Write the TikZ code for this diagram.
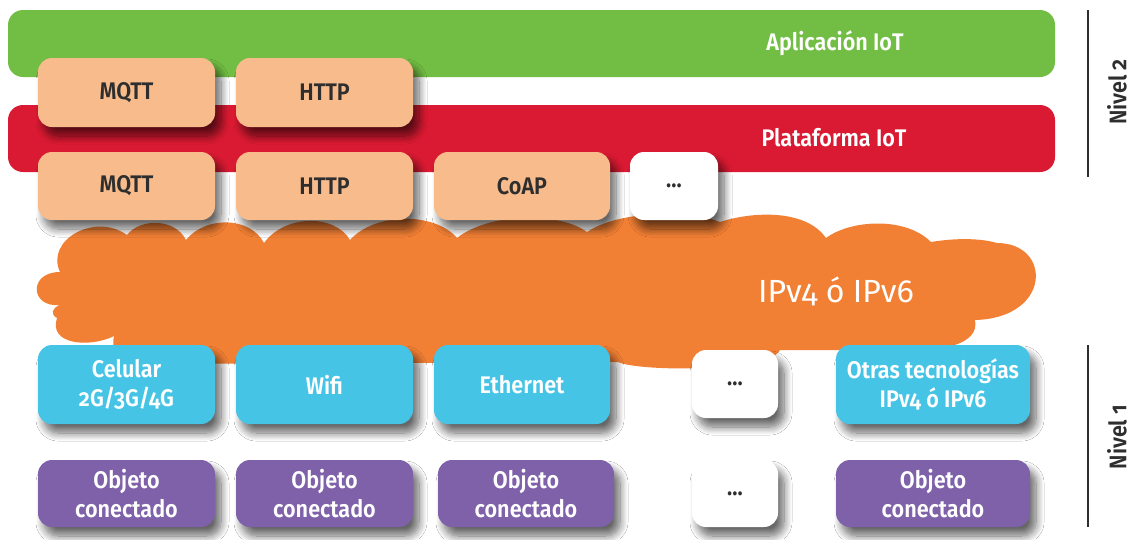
\documentclass[tikz,border=0pt]{standalone}
\usepackage{fontspec}
\setmainfont{Fira Sans}[Numbers=OldStyle]
\newfontfamily\lab{Fira Sans}[Numbers=OldStyle, FakeStretch=0.9, BoldFont={* SemiBold}]
\usetikzlibrary{shadows.blur}
\definecolor{greenc}{HTML}{72BE44}
\definecolor{redc}{HTML}{DA1A32}
\definecolor{peachc}{HTML}{F8BC8C}
\definecolor{orangec}{HTML}{F28034}
\definecolor{bluec}{HTML}{46C4E6}
\definecolor{purplec}{HTML}{7E61A8}
\definecolor{txtc}{HTML}{2E2E2E}
\tikzset{
  boxbase/.style={rounded corners=14pt, inner sep=0pt, align=center,
    font=\lab\bfseries\fontsize{24}{29}\selectfont,
    blur shadow={shadow xshift=6pt, shadow yshift=-9pt, shadow blur steps=10, shadow blur radius=8pt, shadow opacity=60}},
  peachbox/.style={boxbase, fill=peachc, text=txtc, minimum width=177pt, minimum height=69pt},
  dotbox/.style={boxbase, fill=white, text=txtc},
  bluebox/.style={boxbase, fill=bluec, text=white, minimum width=177pt, minimum height=79pt},
  purplebox/.style={boxbase, fill=purplec, text=white, minimum width=177pt, minimum height=67pt},
  bar/.style={rounded corners=15pt, minimum width=1047pt, minimum height=67pt, inner sep=0pt},
  bartext/.style={text=white, font=\lab\bfseries\fontsize{24}{28}\selectfont},
  niveltext/.style={text=txtc, rotate=90, font=\lab\bfseries\fontsize{24}{28}\selectfont},
  bracket/.style={line width=2pt, txtc}
}
\begin{document}
\begin{tikzpicture}[x=1pt,y=-1pt]
\useasboundingbox (0,0) rectangle (1131,539);
\fill[white] (0,0) rectangle (1131,539);
% bars
\node[bar, fill=greenc] (app) at (531.5,43.5) {};
\node[bartext] (appt) at (835,43) {Aplicación IoT};
\node[bar, fill=redc] (plat) at (531.5,138.5) {};
\node[bartext] (platt) at (834,138) {Plataforma IoT};
% cloud
\fill[orangec] (60,305)
 .. controls (30,308) and (28,272) .. (60,272)
 .. controls (45,240) and (95,212) .. (127,235)
 .. controls (140,218) and (175,218) .. (186,240)
 .. controls (205,216) and (250,216) .. (264,243)
 .. controls (285,214) and (335,214) .. (350,240)
 .. controls (375,212) and (435,212) .. (457,238)
 .. controls (490,212) and (560,212) .. (587,232)
 .. controls (620,210) and (690,210) .. (720,222)
 .. controls (750,212) and (805,208) .. (826,238)
 .. controls (850,220) and (905,216) .. (931,242)
 .. controls (955,238) and (980,238) .. (997,243)
 .. controls (1052,243) and (1052,318) .. (975,320)
 .. controls (980,345) and (940,352) .. (900,350)
 -- (780,350)
 .. controls (770,372) and (640,372) .. (618,362)
 -- (130,364)
 .. controls (113,362) and (112,345) .. (114,336)
 .. controls (90,348) and (48,345) .. (57,318)
 .. controls (50,314) and (52,308) .. (60,305) -- cycle;
\node[text=white, font=\fontsize{32}{36}\selectfont] (ip) at (836,291) {IPv4 ó IPv6};
% upper protocol row
\node[peachbox] (mqtt1) at (126.5,92.5) {MQTT};
\node[peachbox] (http1) at (324.5,92.5) {HTTP};
% second protocol row
\node[peachbox, minimum height=68pt] (mqtt2) at (126.5,186) {MQTT};
\node[peachbox, minimum height=68pt] (http2) at (324.5,186) {HTTP};
\node[peachbox, minimum height=68pt, minimum width=176pt] (coap) at (522,186) {CoAP};
\node[dotbox, minimum width=88pt, minimum height=68pt] (dots1) at (674,186) {...};
% access technologies
\node[bluebox] (cel) at (126.5,384.5) {Celular\\2G/3G/4G};
\node[bluebox] (wifi) at (324.5,384.5) {Wifi};
\node[bluebox, minimum width=176pt] (eth) at (522,384.5) {Ethernet};
\node[dotbox, minimum width=86pt, minimum height=68pt] (dots2) at (735,384) {...};
\node[bluebox, minimum width=194pt] (otras) at (933,384.5) {Otras tecnologías\\IPv4 ó IPv6};
% objects
\node[purplebox] (obj1) at (126.5,493.5) {Objeto\\conectado};
\node[purplebox] (obj2) at (324.5,493.5) {Objeto\\conectado};
\node[purplebox, minimum width=176pt] (obj3) at (526,493.5) {Objeto\\conectado};
\node[dotbox, minimum width=86pt, minimum height=67pt] (dots3) at (735,493.5) {...};
\node[purplebox, minimum width=194pt] (obj5) at (933,493.5) {Objeto\\conectado};
% levels
\coordinate (n2a) at (1088,10);
\coordinate (n2b) at (1088,177);
\coordinate (n1a) at (1088,345);
\coordinate (n1b) at (1088,527);
\draw[bracket] (n2a) -- (n2b);
\draw[bracket] (n1a) -- (n1b);
\node[niveltext] (nivel2) at (1117,92) {Nivel 2};
\node[niveltext] (nivel1) at (1117,437) {Nivel 1};
\end{tikzpicture}
\end{document}
